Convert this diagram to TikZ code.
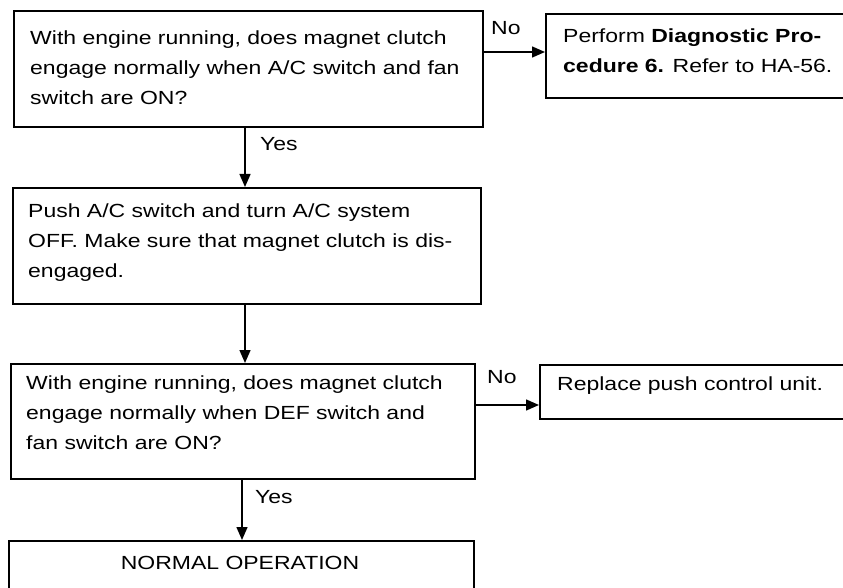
\documentclass[tikz,border=0pt]{standalone}
\usepackage{fontspec}
\setmainfont{Liberation Sans}[FakeStretch=1.21]
\usetikzlibrary{arrows.meta}
\begin{document}
\begin{tikzpicture}[x=1pt,y=-1pt,
  box/.style={draw, line width=1.8pt, rectangle, inner sep=0pt, anchor=north west},
  txt/.style={inner sep=0pt, anchor=north west, align=left, font=\fontsize{19}{30}\selectfont},
  lbl/.style={inner sep=0pt, anchor=north west, font=\fontsize{19}{22}\selectfont},
  arr/.style={line width=1.4pt, -{Triangle[length=13pt,width=11pt]}}]
\clip (0,0) rectangle (843,588);
\fill[white] (0,0) rectangle (843,588);
% boxes
\node[box, minimum width=469pt, minimum height=116pt] (b1) at (13,10) {};
\node[box, minimum width=315pt, minimum height=84pt] (r1) at (545,13) {};
\node[box, minimum width=468pt, minimum height=116pt] (b2) at (12,187) {};
\node[box, minimum width=464pt, minimum height=115pt] (b3) at (10,363) {};
\node[box, minimum width=321pt, minimum height=54pt] (r2) at (539,364) {};
\node[box, minimum width=465pt, minimum height=60pt] (b4) at (8,540) {};
% texts
\node[txt] (t1) at (30,31) {With engine running, does magnet clutch\\engage normally when A/C switch and fan\\switch are ON?};
\node[txt] (t2) at (563,29) {Perform \textbf{Diagnostic Pro-}\\\textbf{cedure 6.} Refer to HA-56.};
\node[txt] (t3) at (28,204) {Push A/C switch and turn A/C system\\OFF. Make sure that magnet clutch is dis-\\engaged.};
\node[txt] (t4) at (26,376) {With engine running, does magnet clutch\\engage normally when DEF switch and\\fan switch are ON?};
\node[txt] (t5) at (557,377) {Replace push control unit.};
\node[txt, anchor=north] (t6) at (240,556) {NORMAL OPERATION};
% connectors
\coordinate (n1) at (482,52);
\coordinate (n2) at (474,405);
\draw[arr] (n1) -- (n1 -| r1.west);
\draw[arr] (n2) -- (n2 -| r2.west);
\draw[arr] (b1.south -| 245,0) -- (b2.north -| 245,0);
\draw[arr] (b2.south -| 245,0) -- (b3.north -| 245,0);
\draw[arr] (b3.south -| 242,0) -- (b4.north -| 242,0);
% labels
\node[lbl] (no1) at (491,21) {No};
\node[lbl] (no2) at (487,370) {No};
\node[lbl] (yes1) at (260,137) {Yes};
\node[lbl] (yes2) at (255,490) {Yes};
\end{tikzpicture}
\end{document}
